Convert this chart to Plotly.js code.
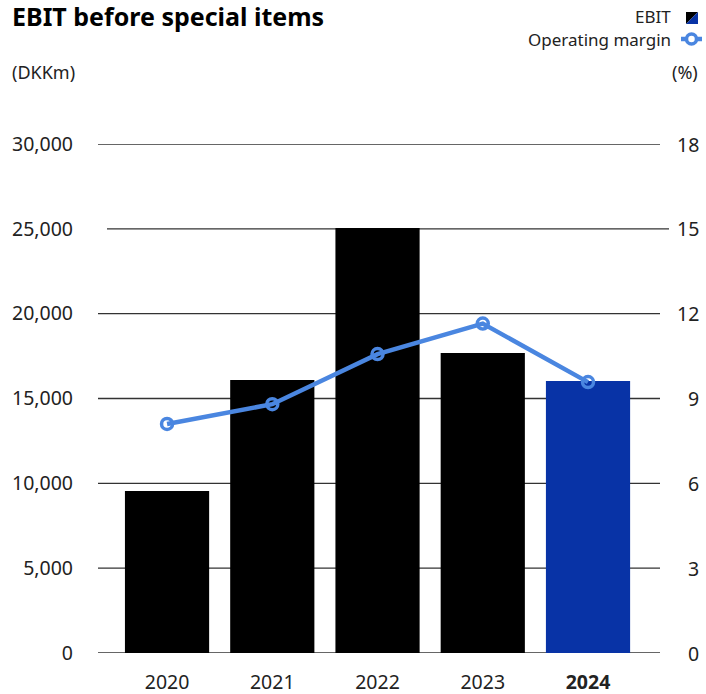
<!DOCTYPE html>
<html>
<head>
<meta charset="utf-8">
<script src="https://cdn.plot.ly/plotly-3.0.1.min.js"></script>
<style>html,body{margin:0;padding:0;background:#fff;}#chart{width:706px;height:694px;}</style>
</head>
<body>
<div id="chart"></div>
<script>
// ---- data ----
const years = ["2020", "2021", "2022", "2023", "2024"];
const yearLabels = ["2020", "2021", "2022", "2023", "<b>2024</b>"];
const ebit = [9550, 16090, 25050, 17680, 16030];
const margin = [8.1, 8.8, 10.57, 11.65, 9.58];
const leftTicks = [0, 5000, 10000, 15000, 20000, 25000, 30000];
const leftTickText = ["0", "5,000", "10,000", "15,000", "20,000", "25,000", "30,000"];
const rightTicks = [0, 3, 6, 9, 12, 15, 18];

// ---- styling ----
const W = 706, H = 694;
const L = 98, R = 46, T = 144, B = 41;
const pw = W - L - R, ph = H - T - B;
const px2x = p => (p - L) / pw;
const px2y = p => (H - B - p) / ph;
const FONT = "Noto Sans, Open Sans, sans-serif";
const TXT = "#222222";
const BLACK = "#000000";
const BLUE = "#0833a6";
const LINE = "#4a86e0";
const GRID = "#333333";
const TICKSIZE = 19.5;

const barColors = years.map((y, i) => i === years.length - 1 ? BLUE : BLACK);

const traces = [
  {
    type: "bar", x: years, y: ebit, width: 0.8,
    marker: {color: barColors}, showlegend: false, hoverinfo: "skip"
  },
  {
    type: "scatter", mode: "lines+markers", x: years, y: margin, yaxis: "y2",
    line: {color: LINE, width: 4.5},
    marker: {symbol: "circle-open", size: 11, color: LINE, line: {width: 3.5, color: LINE}},
    showlegend: false, hoverinfo: "skip"
  }
];

const annotations = [
  {text: "(DKKm)", xref: "paper", yref: "paper", x: px2x(10), y: px2y(72), xanchor: "left", yanchor: "middle", showarrow: false, font: {family: FONT, size: 18, color: TXT}},
  {text: "(%)", xref: "paper", yref: "paper", x: px2x(700), y: px2y(72), xanchor: "right", yanchor: "middle", showarrow: false, font: {family: FONT, size: 18, color: TXT}},
  {text: "EBIT", xref: "paper", yref: "paper", x: px2x(673), y: px2y(17), xanchor: "right", yanchor: "middle", showarrow: false, font: {family: FONT, size: 17, color: TXT}},
  {text: "Operating margin", xref: "paper", yref: "paper", x: px2x(673), y: px2y(39), xanchor: "right", yanchor: "middle", showarrow: false, font: {family: FONT, size: 17, color: TXT}}
];
rightTicks.forEach(v => annotations.push({
  text: String(v), xref: "paper", yref: "y2", x: px2x(701), y: v, xanchor: "right", yanchor: "middle",
  showarrow: false, font: {family: FONT, size: TICKSIZE, color: TXT}
}));

const shapes = [
  {type: "path", xref: "paper", yref: "paper",
   path: `M ${px2x(686)},${px2y(12)} L ${px2x(698)},${px2y(12)} L ${px2x(686)},${px2y(24)} Z`,
   fillcolor: BLACK, line: {width: 0}},
  {type: "path", xref: "paper", yref: "paper",
   path: `M ${px2x(698)},${px2y(12)} L ${px2x(698)},${px2y(24)} L ${px2x(686)},${px2y(24)} Z`,
   fillcolor: BLUE, line: {width: 0}},
  {type: "line", xref: "paper", yref: "paper", x0: px2x(681), x1: px2x(702), y0: px2y(39), y1: px2y(39), line: {color: LINE, width: 4.5}},
  {type: "circle", xref: "paper", yref: "paper", x0: px2x(686.5), x1: px2x(696.5), y0: px2y(34), y1: px2y(44), fillcolor: "#ffffff", line: {color: LINE, width: 3.5}}
];
// horizontal gridlines (the 25,000 line is drawn slightly shifted in the original)
leftTicks.forEach(v => shapes.push({
  type: "line", xref: "paper", yref: "y", layer: "below",
  x0: v === 25000 ? px2x(107) : 0, x1: v === 25000 ? px2x(669) : 1,
  y0: v, y1: v, line: {color: GRID, width: 1.3}
}));

const layout = {
  width: W, height: H,
  margin: {l: L, r: R, t: T, b: B, pad: 0},
  paper_bgcolor: "#ffffff", plot_bgcolor: "rgba(0,0,0,0)",
  font: {family: FONT, size: 18, color: TXT},
  title: {
    text: "<b>EBIT before special items</b>", xref: "container", yref: "container",
    x: 12 / W, xanchor: "left", y: 1 - 17 / H, yanchor: "middle",
    font: {family: FONT, size: 25, color: "#000000"}
  },
  bargap: 0.2,
  xaxis: {
    type: "category", range: [-0.656, 4.684],
    tickvals: years, ticktext: yearLabels,
    showgrid: false, zeroline: false, showline: false, ticks: "",
    ticklabelstandoff: 15,
    tickfont: {family: FONT, size: TICKSIZE, color: TXT}, fixedrange: true
  },
  yaxis: {
    range: [0, 30000], tickvals: leftTicks, ticktext: leftTickText,
    showgrid: false, zeroline: false,
    showline: false, ticks: "", ticklabelstandoff: 24,
    tickfont: {family: FONT, size: TICKSIZE, color: TXT}, fixedrange: true
  },
  yaxis2: {
    overlaying: "y", side: "right", range: [0, 18], tickvals: rightTicks,
    showgrid: false, zeroline: false, showline: false, showticklabels: false, ticks: "",
    fixedrange: true
  },
  annotations: annotations,
  shapes: shapes,
  showlegend: false
};

Plotly.newPlot("chart", traces, layout, {displayModeBar: false, staticPlot: true});
</script>
</body>
</html>
